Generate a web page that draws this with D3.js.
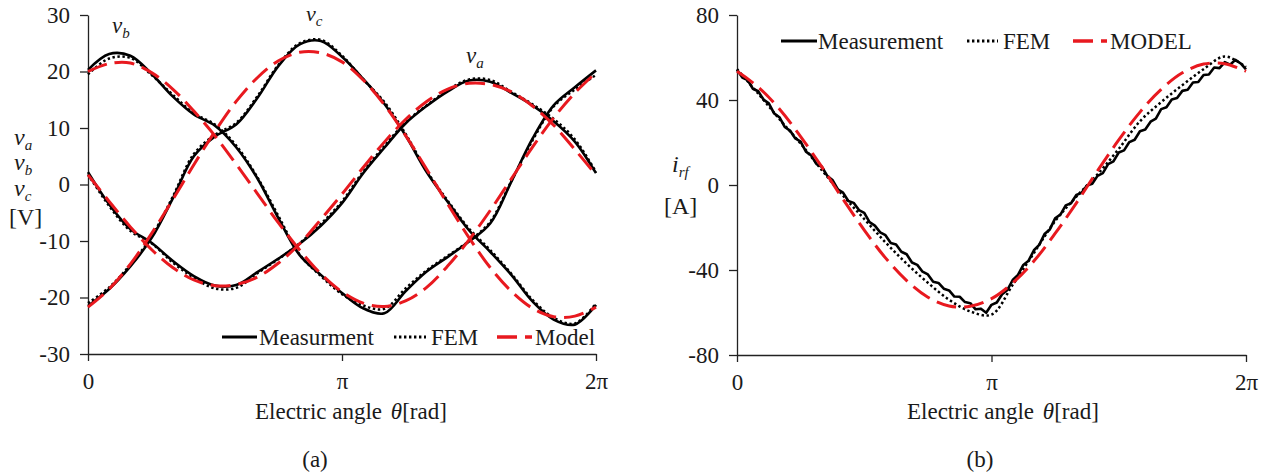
<!DOCTYPE html>
<html>
<head>
<meta charset="utf-8">
<script src="https://cdn.jsdelivr.net/npm/d3@7"></script>
<style>
  body { margin: 0; background: #fff; }
  text { font-family: "Liberation Serif", "Times New Roman", serif; fill: #1a1a1a; }
</style>
</head>
<body>
<svg id="chart" width="1266" height="472"></svg>
<script>
// ---- data ----
// electric angle in degrees (0..360 = 0..2pi)
var angleTicks = [0, 180, 360];
var angleLabels = ["0", "\u03c0", "2\u03c0"];

// panel (a): phase voltages, sampled every 15 deg
var degA = [0,15,30,45,60,75,90,105,120,135,150,165,180,195,210,225,240,255,270,285,300,315,330,345,360];
var measVa = [2.2,-3.5,-7.9,-10.3,-13.5,-16.2,-17.9,-17.8,-15.5,-13.1,-10.5,-7.3,-3.3,2.0,6.5,10.8,13.9,16.5,18.4,18.2,16.2,14.0,11.2,7.6,2.0];
var measVb = [20.3,23.1,22.8,19.6,15.6,12.4,10.4,6.6,1.1,-6.0,-12.5,-16.0,-19.2,-21.9,-22.8,-18.9,-15.4,-12.8,-10.1,-6.9,0.5,8.1,14.0,17.2,20.2];
var measVc = [-21.5,-18.5,-14.5,-9.5,-2.5,5.0,8.5,10.6,15.3,21.0,24.8,25.4,22.6,18.7,14.3,8.7,2.2,-3.1,-8.1,-11.9,-16.0,-20.7,-23.9,-24.8,-21.3];
var femVa = [1.8,-3.8,-8.2,-10.4,-13.8,-16.5,-18.4,-18.3,-15.7,-13.2,-10.4,-7.0,-3.0,2.3,6.8,11.0,14.0,16.7,18.6,18.5,16.4,14.2,11.6,8.0,2.2];
var femVb = [19.5,22.3,22.4,19.4,15.9,12.6,10.6,6.9,1.3,-5.6,-12.4,-16.2,-19.4,-21.4,-22.0,-18.4,-15.2,-12.6,-10.0,-6.6,0.6,7.8,13.8,16.8,19.4];
var femVc = [-21.0,-18.2,-14.2,-9.2,-2.2,5.4,8.8,10.9,15.6,21.2,25.0,25.6,22.8,18.6,14.6,9.0,2.4,-2.9,-7.8,-11.6,-15.8,-20.4,-23.6,-24.6,-21.0];
var modelVa = [1.7,-3.0,-7.5,-11.5,-14.7,-16.9,-17.9,-17.7,-16.4,-13.9,-10.5,-6.2,-1.7,3.0,7.5,11.5,14.7,16.9,17.9,17.7,16.4,13.9,10.5,6.2,1.7];
var modelVb = [20.0,21.4,21.5,19.8,16.9,13.0,8.6,3.6,-1.6,-6.8,-11.6,-15.8,-19.0,-21.0,-21.6,-20.6,-18.2,-14.4,-9.8,-4.6,1.0,6.6,11.8,16.2,19.8];
var modelVc = [-21.7,-18.5,-14.1,-8.7,-2.7,3.5,9.4,14.7,18.9,21.9,23.4,23.3,21.7,18.5,14.1,8.7,2.7,-3.5,-9.4,-14.7,-18.9,-21.9,-23.4,-23.3,-21.7];
var voltTicks = [-30,-20,-10,0,10,20,30];

// panel (b): field current; the measurement is sampled every 3.75 deg
var degMeasB = d3.range(0, 360.001, 3.75);
var measIrf = [54.2,50.6,49.4,45.3,44.1,40.2,38.4,33.7,31.9,27.3,25.6,21.9,20.4,15.7,13.9,9.8,8.6,4.4,2.4,-2.0,
               -3.6,-7.5,-8.4,-11.8,-13.1,-17.5,-19.1,-22.3,-23.6,-27.3,-28.0,-31.4,-32.6,-36.5,-37.6,-40.8,-42.1,-45.5,-46.1,-48.8,
               -49.6,-52.5,-52.6,-55.1,-55.6,-58.5,-58.2,-60.1,-56.4,-55.3,-51.4,-49.4,-44.7,-42.3,-37.6,-35.6,-30.7,-28.2,-23.1,-20.9,
               -15.7,-13.9,-9.6,-8.6,-4.7,-3.7,-0.2,0.6,4.3,5.6,9.8,11.1,15.3,16.3,20.2,21.3,25.3,26.1,29.8,31.2,
               35.7,36.6,40.2,40.9,44.3,44.8,48.2,48.5,51.8,52.0,55.3,55.0,57.8,56.6,58.9,57.2,54.4];
var femIrf = [54.5,43,31,19.5,7,-5,-16,-27,-37,-46,-54,-59.5,-61,-47,-32,-17,-5.5,5,17,30,39,47,54.5,60.5,55.5];
var modelIrf = [53.5,46.1,35.8,22.8,8.5,-6.7,-21.2,-34.3,-45.0,-52.8,-56.9,-57.1,-53.5,-46.1,-35.8,-22.8,-8.5,6.7,21.2,34.3,45.0,52.8,56.9,57.1,53.5];
var currentTicks = [-80,-40,0,40,80];

// ---- drawing ----
var svg = d3.select("svg#chart");
var serif = '"Liberation Serif", "Times New Roman", serif';
var red = "#e8191f";

var styles = {
  meas:  { stroke: "#000", width: 2.6, dash: null },
  fem:   { stroke: "#000", width: 2.5, dash: "2.4 2.6" },
  model: { stroke: red,    width: 3,   dash: "20 8" }
};

function drawPanel(cfg) {
  var x = d3.scaleLinear().domain([0, 360]).range([cfg.left, cfg.right]);
  var y = d3.scaleLinear().domain(cfg.yDomain).range([cfg.bottom, cfg.top]);

  var gy = svg.append("g")
    .attr("transform", "translate(" + cfg.left + ",0)")
    .call(d3.axisLeft(y).tickValues(cfg.yTicks)
      .tickFormat(function(d) { return String(d); })
      .tickSize(8).tickPadding(10).tickSizeOuter(0));
  var gx = svg.append("g")
    .attr("transform", "translate(0," + cfg.bottom + ")")
    .call(d3.axisBottom(x).tickValues(angleTicks)
      .tickFormat(function(d, i) { return angleLabels[i]; })
      .tickSize(7).tickPadding(12).tickSizeOuter(0));
  [gx, gy].forEach(function(g) {
    g.attr("font-family", serif).attr("font-size", 23).attr("color", "#222");
    g.selectAll("path, line").attr("stroke-width", 1.3);
    g.selectAll("text").attr("fill", "#1a1a1a");
  });

  cfg.series.forEach(function(s) {
    var st = styles[s.kind];
    var line = d3.line()
      .x(function(d, i) { return x(s.deg[i]); })
      .y(function(d) { return y(d); })
      .curve(s.linear ? d3.curveLinear : d3.curveCatmullRom.alpha(0.5));
    svg.append("path")
      .datum(s.values)
      .attr("d", line)
      .attr("fill", "none")
      .attr("stroke", st.stroke)
      .attr("stroke-width", st.width)
      .attr("stroke-dasharray", st.dash)
      .attr("stroke-linejoin", "round");
  });

  // legend
  cfg.legend.forEach(function(it) {
    var st = styles[it.kind];
    svg.append("line")
      .attr("x1", it.x1).attr("x2", it.x2)
      .attr("y1", cfg.legendY).attr("y2", cfg.legendY)
      .attr("stroke", st.stroke).attr("stroke-width", st.width + 0.6)
      .attr("stroke-dasharray", st.dash);
    svg.append("text")
      .attr("x", it.tx).attr("y", cfg.legendY + 8)
      .attr("font-size", 23)
      .text(it.label);
  });

  // x title
  var t = svg.append("text")
    .attr("x", cfg.titleX).attr("y", 419)
    .attr("font-size", 23);
  t.append("tspan").text("Electric angle ");
  t.append("tspan").attr("font-style", "italic").attr("dx", 3).text("\u03b8");
  t.append("tspan").text("[rad]");

  svg.append("text")
    .attr("x", cfg.tagX).attr("y", 467)
    .attr("text-anchor", "middle")
    .attr("font-size", 23)
    .text(cfg.tag);
}

function subLabel(x, y, main, sub, size) {
  var t = svg.append("text").attr("x", x).attr("y", y).attr("font-size", size || 24);
  t.append("tspan").attr("font-style", "italic").text(main);
  t.append("tspan").attr("font-style", "italic").attr("font-size", 15).attr("dy", 5).text(sub);
  return t;
}

// panel (a)
drawPanel({
  left: 88, right: 596, top: 15, bottom: 354,
  yDomain: [-30, 30], yTicks: voltTicks,
  series: [
    { kind: "fem", deg: degA, values: femVa },
    { kind: "fem", deg: degA, values: femVb },
    { kind: "fem", deg: degA, values: femVc },
    { kind: "meas", deg: degA, values: measVa },
    { kind: "meas", deg: degA, values: measVb },
    { kind: "meas", deg: degA, values: measVc },
    { kind: "model", deg: degA, values: modelVa },
    { kind: "model", deg: degA, values: modelVb },
    { kind: "model", deg: degA, values: modelVc }
  ],
  legendY: 337,
  legend: [
    { kind: "meas", x1: 222, x2: 257, tx: 259, label: "Measurment" },
    { kind: "fem", x1: 394, x2: 426, tx: 431, label: "FEM" },
    { kind: "model", x1: 497, x2: 532, tx: 535, label: "Model" }
  ],
  titleX: 255, tagX: 315, tag: "(a)"
});

// panel (b)
drawPanel({
  left: 737, right: 1246, top: 15, bottom: 355,
  yDomain: [-80, 80], yTicks: currentTicks,
  series: [
    { kind: "fem", deg: degA, values: femIrf },
    { kind: "meas", deg: degMeasB, values: measIrf, linear: true },
    { kind: "model", deg: degA, values: modelIrf }
  ],
  legendY: 41,
  legend: [
    { kind: "meas", x1: 781, x2: 817, tx: 818, label: "Measurement" },
    { kind: "fem", x1: 967, x2: 998, tx: 1003, label: "FEM" },
    { kind: "model", x1: 1073, x2: 1107, tx: 1110, label: "MODEL" }
  ],
  titleX: 907, tagX: 980, tag: "(b)"
});

// axis labels (stacked) and curve labels
subLabel(14, 145, "v", "a");
subLabel(14, 170, "v", "b");
subLabel(14, 196, "v", "c");
svg.append("text").attr("x", 9).attr("y", 225).attr("font-size", 24).text("[V]");

subLabel(112, 33, "v", "b", 23);
subLabel(306, 21, "v", "c", 22);
subLabel(466, 63, "v", "a", 23);

var ir = svg.append("text").attr("x", 672).attr("y", 172).attr("font-size", 24);
ir.append("tspan").attr("font-style", "italic").text("i");
ir.append("tspan").attr("font-style", "italic").attr("font-size", 15).attr("dy", 5).text("rf");
svg.append("text").attr("x", 664).attr("y", 214).attr("font-size", 24).text("[A]");
</script>
</body>
</html>
